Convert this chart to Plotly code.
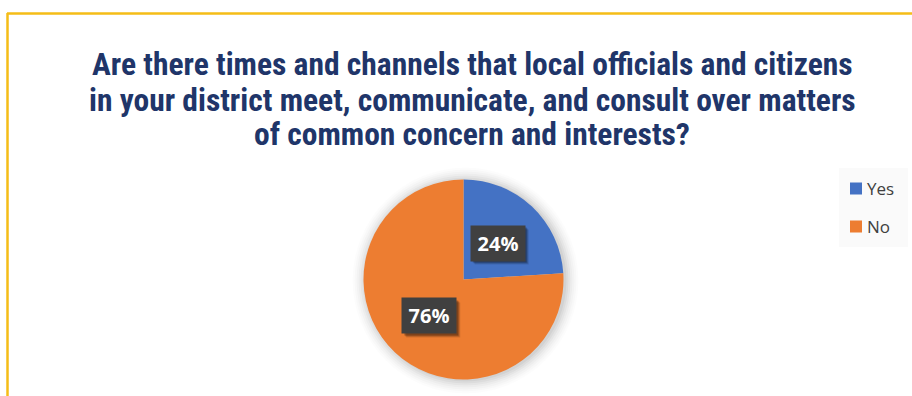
import math
import plotly.graph_objects as go

# Survey answers and their shares (%)
labels = ["Yes", "No"]
values = [24, 76]
colors = ["#4472C4", "#ED7D31"]

title_lines = [
    "Are there times and channels that local officials and citizens",
    "in your district meet, communicate, and consult over matters",
    "of common concern and interests?",
]

W, H = 912, 396
# pie geometry in pixels
CX, CY, R = 463.5, 279.5, 100


def px(x):
    return x / W


def py(y):
    return 1 - y / H


fig = go.Figure()
fig.add_trace(go.Pie(
    labels=labels,
    values=values,
    marker=dict(colors=colors, line=dict(width=0)),
    sort=False,
    direction="clockwise",
    rotation=0,
    textinfo="none",
    hoverinfo="label+percent",
    showlegend=False,
    domain=dict(x=[px(CX - R), px(CX + R)], y=[py(CY + R), py(CY - R)]),
))

shapes = []
annotations = []

# soft shadow around the pie
for i, a in enumerate([0.04, 0.035, 0.03, 0.025, 0.02, 0.015, 0.01]):
    rr = R + 1 + i * 2
    shapes.append(dict(
        type="circle", xref="paper", yref="paper", layer="below",
        x0=px(CX + 2 - rr), x1=px(CX + 2 + rr),
        y0=py(CY + 1 + rr), y1=py(CY + 1 - rr),
        fillcolor=f"rgba(0,0,0,{a})", line=dict(width=0),
    ))

# yellow frame (top and left edges)
frame = "#F5BD17"
shapes.append(dict(type="line", xref="paper", yref="paper",
                   x0=px(7), x1=1.0, y0=py(13.5), y1=py(13.5),
                   line=dict(color=frame, width=2.5)))
shapes.append(dict(type="line", xref="paper", yref="paper",
                   x0=px(7.5), x1=px(7.5), y0=py(13), y1=0.0,
                   line=dict(color=frame, width=2.5)))

# data labels: dark boxes at half radius along each slice's mid angle
BW, BH = 54, 35
total = sum(values)
cum = 0
for v in values:
    mid = (cum + v / 2) / total * 2 * math.pi
    cum += v
    lx = CX + 0.5 * R * math.sin(mid)
    ly = CY - 0.5 * R * math.cos(mid)
    txt = f"{round(v / total * 100)}%"
    # drop shadow behind the box
    for k, a in enumerate([0.12, 0.18, 0.25]):
        off = 4 - k
        shapes.append(dict(
            type="rect", xref="paper", yref="paper",
            x0=px(lx - BW / 2 + off), x1=px(lx + BW / 2 + off),
            y0=py(ly + BH / 2 + off), y1=py(ly - BH / 2 + off),
            fillcolor=f"rgba(0,0,0,{a})", line=dict(width=0),
        ))
    annotations.append(dict(
        x=px(lx), y=py(ly), xref="paper", yref="paper",
        xanchor="center", yanchor="middle",
        text=f"<b>{txt}</b>", showarrow=False, width=BW, height=BH,
        borderpad=0, bgcolor="#404040",
        font=dict(family="Open Sans", size=20, color="white"),
    ))

# legend panel
shapes.append(dict(type="rect", xref="paper", yref="paper", layer="below",
                   x0=px(839), x1=px(908), y0=py(247), y1=py(168),
                   fillcolor="#FAFAFA", line=dict(width=0)))
for i, (lab, col) in enumerate(zip(labels, colors)):
    yc = 188.5 + i * 38
    shapes.append(dict(type="rect", xref="paper", yref="paper",
                       x0=px(850), x1=px(862), y0=py(yc + 6), y1=py(yc - 6),
                       fillcolor=col, line=dict(width=0)))
    annotations.append(dict(
        x=px(865), y=py(yc), xref="paper", yref="paper",
        xanchor="left", yanchor="middle", text=lab, showarrow=False,
        font=dict(family="Open Sans", size=17, color="#404040"),
    ))

# chart title, one line per annotation
for line, yc in zip(title_lines, [64, 100, 135]):
    annotations.append(dict(
        x=px(472), y=py(yc), xref="paper", yref="paper",
        xanchor="center", yanchor="middle", showarrow=False,
        text=f"<b>{line}</b>",
        font=dict(family="Roboto Condensed, Roboto, sans-serif",
                  size=31.5, color="#203569"),
    ))

fig.update_layout(
    width=W, height=H,
    margin=dict(l=0, r=0, t=0, b=0),
    paper_bgcolor="white",
    plot_bgcolor="white",
    shapes=shapes,
    annotations=annotations,
)

fig.write_html("out.html")
